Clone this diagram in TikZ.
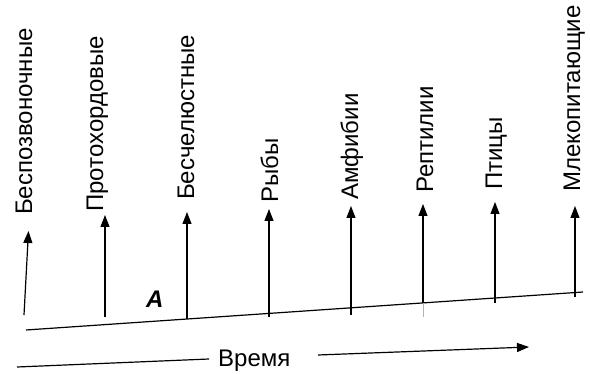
\documentclass[tikz,border=0pt]{standalone}
\usepackage{fontspec}
\setmainfont{Liberation Sans}
\usetikzlibrary{arrows.meta}
\begin{document}
\begin{tikzpicture}[x=1pt,y=-1pt,
  lbl/.style={rotate=90,anchor=base west,inner sep=0pt,font=\fontsize{24}{28}\selectfont},
  upar/.style={line width=1.2pt,-{Triangle[length=12pt,width=9pt]}},
  tline/.style={line width=1.2pt},
  tick/.style={line width=1pt}]
\useasboundingbox (0,0) rectangle (590,374);
% baseline
\coordinate (b0) at (26,330);
\coordinate (b1) at (583,292);
\draw[tline] (b0) -- (b1);
% arrow bottoms and tips
\coordinate (s1) at (24,315);  \coordinate (t1) at (28.5,231);
\coordinate (s2) at (105,317); \coordinate (t2) at (105,215);
\coordinate (s3) at (187,319); \coordinate (t3) at (187,212);
\coordinate (s4) at (269,317); \coordinate (t4) at (269,209);
\coordinate (s5) at (351,315); \coordinate (t5) at (351,206);
\coordinate (s6) at (423,303); \coordinate (t6) at (423,204);
\coordinate (g6) at (423,317);
\coordinate (s7) at (495,303); \coordinate (t7) at (495,202);
\coordinate (s8) at (575,297); \coordinate (t8) at (575,206);
\foreach \i in {1,...,8}{\draw[upar] (s\i) -- (t\i);}
\draw[tick,gray!60] (g6) -- (s6);
% labels
\node[lbl] (l1) at (32,215) {Беспозвоночные};
\node[lbl] (l2) at (103,212) {Протохордовые};
\node[lbl] (l3) at (194,200) {Бесчелюстные};
\node[lbl] (l4) at (278,203) {Рыбы};
\node[lbl] (l5) at (358,200) {Амфибии};
\node[lbl] (l6) at (433,193) {Рептилии};
\node[lbl] (l7) at (502,190) {Птицы};
\node[lbl] (l8) at (580,192) {Млекопитающие};
% A
\node[anchor=base west,inner sep=0pt,font=\fontsize{24}{28}\selectfont\bfseries\itshape] (A) at (146,308) {A};
% time arrow
\node[anchor=base west,inner sep=0pt,font=\fontsize{24}{28}\selectfont] (time) at (218,367) {Время};
\coordinate (ta) at (17,367);
\coordinate (tb) at (209,359);
\coordinate (tc) at (318,355);
\coordinate (td) at (529,347);
\draw[tline] (ta) -- (tb);
\draw[tline,-{Triangle[length=12pt,width=9pt]}] (tc) -- (td);
\end{tikzpicture}
\end{document}
